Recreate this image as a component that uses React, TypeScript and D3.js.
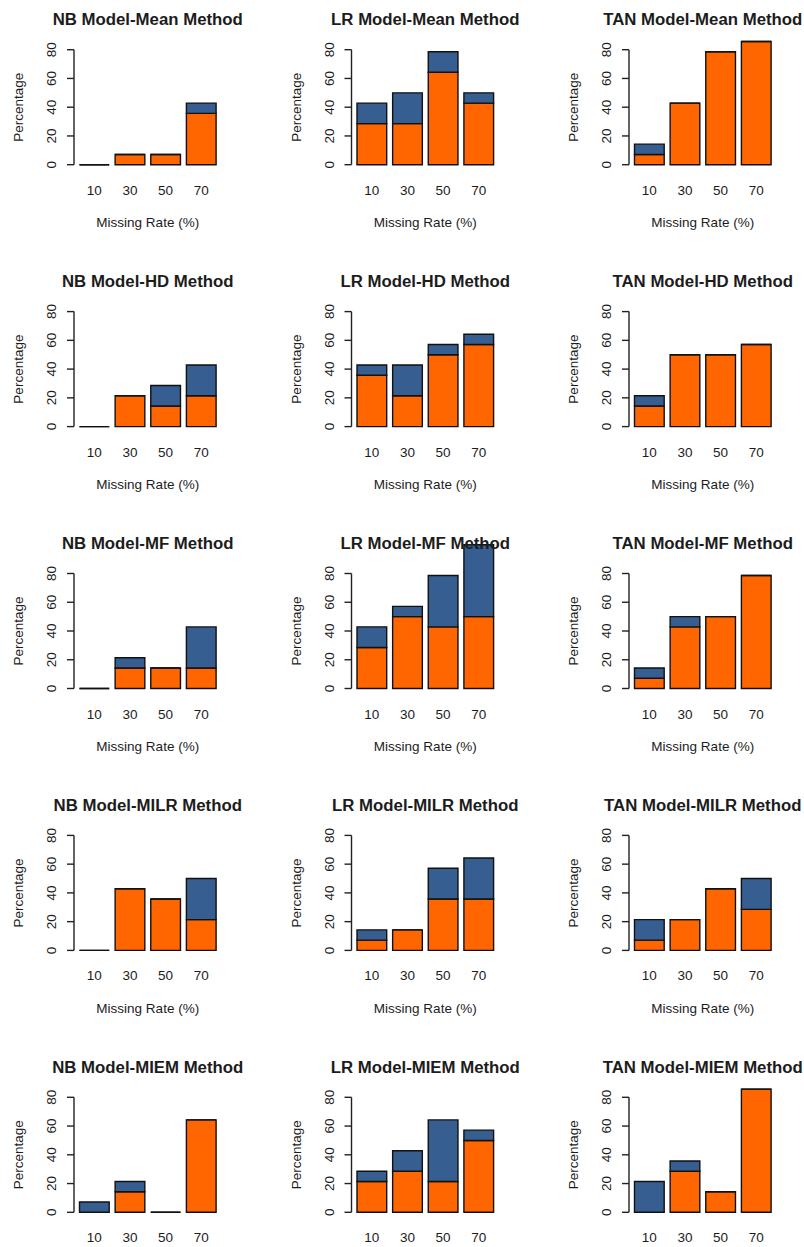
import React from "react";
import * as d3 from "d3";

const missingRates = ["10", "30", "50", "70"];
const models = ["NB", "LR", "TAN"];
const methods = ["Mean", "HD", "MF", "MILR", "MIEM"];
const yTicks = [0, 20, 40, 60, 80];

// orange (bottom) and blue (top) segment values, rows = NB, LR, TAN
const meanOrange = [[0, 7.14, 7.14, 35.71], [28.57, 28.57, 64.29, 42.86], [7.14, 42.86, 78.57, 85.71]];
const meanBlue = [[0, 0, 0, 7.14], [14.29, 21.43, 14.29, 7.14], [7.14, 0, 0, 0]];
const hdOrange = [[0, 21.43, 14.29, 21.43], [35.71, 21.43, 50, 57.14], [14.29, 50, 50, 57.14]];
const hdBlue = [[0, 0, 14.29, 21.43], [7.14, 21.43, 7.14, 7.14], [7.14, 0, 0, 0]];
const mfOrange = [[0, 14.29, 14.29, 14.29], [28.57, 50, 42.86, 50], [7.14, 42.86, 50, 78.57]];
const mfBlue = [[0, 7.14, 0, 28.57], [14.29, 7.14, 35.71, 50], [7.14, 7.14, 0, 0]];
const milrOrange = [[0, 42.86, 35.71, 21.43], [7.14, 14.29, 35.71, 35.71], [7.14, 21.43, 42.86, 28.57]];
const milrBlue = [[0, 0, 0, 28.57], [7.14, 0, 21.43, 28.57], [14.29, 0, 0, 21.43]];
const miemOrange = [[0, 14.29, 0, 64.29], [21.43, 28.57, 21.43, 50], [0, 28.57, 14.29, 85.71]];
const miemBlue = [[7.14, 7.14, 0, 0], [7.14, 14.29, 42.86, 7.14], [21.43, 7.14, 0, 0]];

const orangeByMethod = [meanOrange, hdOrange, mfOrange, milrOrange, miemOrange];
const blueByMethod = [meanBlue, hdBlue, mfBlue, milrBlue, miemBlue];

const ORANGE = "#ff6600";
const BLUE = "#365e91";
const INK = "#1c1c1c";
const FONT = "'Liberation Sans', Arial, Helvetica, sans-serif";

const W = 804;
const H = 1247;
const colPitch = 277.5;
const rowPitch = 261.9;
const axisX0 = 74;
const zeroY0 = 164.7;
const plotH = 115; // 0..80
const plotW = 147.5;

function Panel({ row, col }: { row: number; col: number }) {
  const axisX = axisX0 + col * colPitch;
  const zeroY = zeroY0 + row * rowPitch;
  const y = d3.scaleLinear().domain([0, 80]).range([zeroY, zeroY - plotH]);
  const x = d3
    .scaleBand<string>()
    .domain(missingRates)
    .range([axisX + 5.5, axisX + 5.5 + 136.6])
    .paddingInner(0.2 / 1.2)
    .paddingOuter(0);
  const orange = orangeByMethod[row][col];
  const blue = blueByMethod[row][col];
  const stackData = missingRates.map((r, i) => ({ rate: r, orange: orange[i], blue: blue[i] }));
  const series = d3.stack<any>().keys(["orange", "blue"])(stackData);
  const cx = axisX + plotW / 2;
  const plotTop = y(83.2);
  const plotBottom = y(-3.2);
  const title = `${models[col]} Model-${methods[row]} Method`;
  const bw = x.bandwidth();
  const xLabelY = zeroY + 62.5;
  return (
    <g>
      {series.map((s) => (
        <g key={s.key} fill={s.key === "orange" ? ORANGE : BLUE}>
          {s.map((d, i) => {
            const x0 = x(missingRates[i]) as number;
            const yTop = y(d[1]);
            const yBot = y(d[0]);
            return (
              <path
                key={i}
                d={`M${x0},${yBot}H${x0 + bw}V${yTop}H${x0}Z`}
                stroke="#111"
                strokeWidth={1.4}
              />
            );
          })}
        </g>
      ))}
      {/* y axis */}
      <line x1={axisX} x2={axisX} y1={y(0)} y2={y(80)} stroke="#222" strokeWidth={1.4} />
      {yTicks.map((t) => (
        <g key={t}>
          <line x1={axisX - 7} x2={axisX} y1={y(t)} y2={y(t)} stroke="#222" strokeWidth={1.4} />
          <text
            transform={`translate(${axisX - 18},${y(t)}) rotate(-90)`}
            textAnchor="middle"
            fontSize={13.5}
            fontFamily={FONT}
            fill={INK}
          >
            {t}
          </text>
        </g>
      ))}
      {missingRates.map((r) => (
        <text
          key={r}
          x={(x(r) as number) + bw / 2}
          y={zeroY + 30}
          textAnchor="middle"
          fontSize={13.5}
          fontFamily={FONT}
          fill={INK}
        >
          {r}
        </text>
      ))}
      {xLabelY < H - 4 && (
        <text x={cx} y={xLabelY} textAnchor="middle" fontSize={13.5} fontFamily={FONT} fill={INK}>
          Missing Rate (%)
        </text>
      )}
      <text
        transform={`translate(${axisX - 51},${(plotTop + plotBottom) / 2}) rotate(-90)`}
        textAnchor="middle"
        fontSize={13.5}
        fontFamily={FONT}
        fill={INK}
      >
        Percentage
      </text>
      <text
        x={cx}
        y={zeroY - 139.7}
        textAnchor="middle"
        fontSize={16.8}
        fontWeight="bold"
        fontFamily={FONT}
        fill={INK}
      >
        {title}
      </text>
    </g>
  );
}

export default function App() {
  return (
    <svg
      width={W}
      height={H}
      style={{ position: "absolute", left: 0, top: 0, background: "#fff" }}
    >
      <rect x={0} y={0} width={W} height={H} fill="#fff" />
      {methods.map((m, r) =>
        models.map((md, c) => <Panel key={`${r}-${c}`} row={r} col={c} />)
      )}
    </svg>
  );
}
